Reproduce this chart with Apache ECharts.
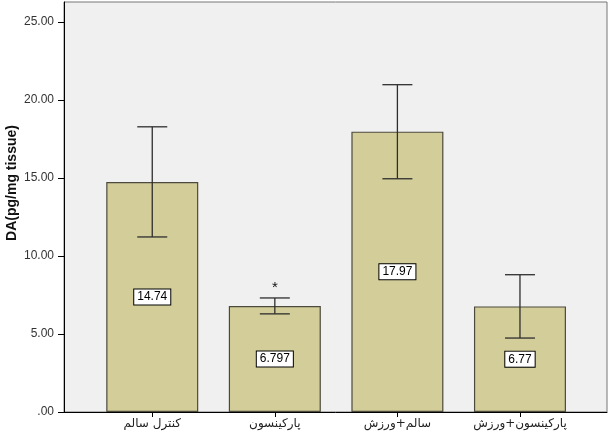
<!DOCTYPE html>
<html>
<head>
<meta charset="utf-8">
<script src="https://cdn.jsdelivr.net/npm/echarts@6/dist/echarts.min.js"></script>
<style>
  html, body { margin: 0; padding: 0; background: #fff; }
  #chart { width: 611px; height: 437px; }
</style>
</head>
<body>
<div id="chart"></div>
<script>
// data
const groups = ['کنترل سالم', 'پارکینسون', 'سالم+ورزش', 'پارکینسون+ورزش'];
const means = [14.74, 6.797, 17.97, 6.77];
const errLow = [11.22, 6.29, 14.95, 4.74];
const errHigh = [18.28, 7.31, 20.98, 8.80];
const marks = ['', '*', '', ''];

const fontMain = 'Liberation Sans, Arial, DejaVu Sans, sans-serif';

const chart = echarts.init(document.getElementById('chart'));

const barData = means.map((v, i) => [i, v]);
const errData = means.map((v, i) => [i, errLow[i], errHigh[i]]);

chart.setOption({
    animation: false,
    backgroundColor: '#ffffff',
    grid: {
        left: 64, right: 4, top: 2, bottom: 25,
        outerBoundsMode: 'none',
        containLabel: false,
        show: true,
        backgroundColor: '#f0f0f0',
        borderColor: '#777777',
        borderWidth: 1
    },
    xAxis: {
        type: 'value',
        min: -0.72,
        max: 3.71,
        splitLine: {show: false},
        axisLine: {show: true, onZero: false, lineStyle: {color: '#000', width: 1}},
        axisTick: {show: true, inside: false, length: 5, customValues: [0, 1, 2, 3], lineStyle: {color: '#000'}},
        axisLabel: {
            customValues: [0, 1, 2, 3],
            formatter: v => groups[Math.round(v)] || '',
            color: '#222',
            fontSize: 12,
            margin: 6,
            fontFamily: 'DejaVu Sans, sans-serif'
        }
    },
    yAxis: {
        type: 'value',
        min: 0,
        max: 26.28,
        interval: 5,
        name: 'DA(pg/mg tissue)',
        nameLocation: 'middle',
        nameGap: 45,
        nameRotate: 90,
        nameMoveOverlap: false,
        nameTextStyle: {
            fontSize: 14, fontWeight: 'bold', color: '#111', fontFamily: fontMain,
            padding: [0, 0, 0, 48]
        },
        splitLine: {show: false},
        axisLine: {show: true, onZero: false, lineStyle: {color: '#000', width: 1}},
        axisTick: {show: true, inside: false, length: 6, lineStyle: {color: '#000'}},
        axisLabel: {
            showMaxLabel: false,
            formatter: v => (v === 0 ? '.00' : v.toFixed(2)),
            color: '#333',
            fontSize: 12,
            margin: 10,
            fontFamily: fontMain
        }
    },
    series: [
        {
            type: 'bar',
            data: barData,
            barWidth: 92,
            itemStyle: {color: '#d3ce99', borderColor: '#4b4a3c', borderWidth: 1.2},
            label: {
                show: true,
                position: 'inside',
                formatter: p => String(means[p.dataIndex]),
                color: '#000',
                fontSize: 12,
                fontFamily: fontMain,
                backgroundColor: '#ffffff',
                borderColor: '#000',
                borderWidth: 1,
                padding: [2, 3, 1, 3]
            },
            z: 2
        },
        {
            type: 'custom',
            data: errData,
            z: 5,
            renderItem: (params, api) => {
                const x = api.value(0);
                const lo = api.coord([x, api.value(1)]);
                const hi = api.coord([x, api.value(2)]);
                const cap = 15;
                const style = {stroke: '#2e2e2e', lineWidth: 1.3};
                const children = [
                    {type: 'line', shape: {x1: hi[0], y1: hi[1], x2: lo[0], y2: lo[1]}, style},
                    {type: 'line', shape: {x1: hi[0] - cap, y1: hi[1], x2: hi[0] + cap, y2: hi[1]}, style},
                    {type: 'line', shape: {x1: lo[0] - cap, y1: lo[1], x2: lo[0] + cap, y2: lo[1]}, style}
                ];
                const m = marks[params.dataIndex];
                if (m) {
                    children.push({
                        type: 'text',
                        style: {
                            text: m, x: hi[0], y: hi[1] - 10,
                            align: 'center', verticalAlign: 'middle',
                            fontSize: 15, fontFamily: fontMain, fill: '#111'
                        }
                    });
                }
                return {type: 'group', children};
            }
        }
    ]
});
</script>
</body>
</html>
